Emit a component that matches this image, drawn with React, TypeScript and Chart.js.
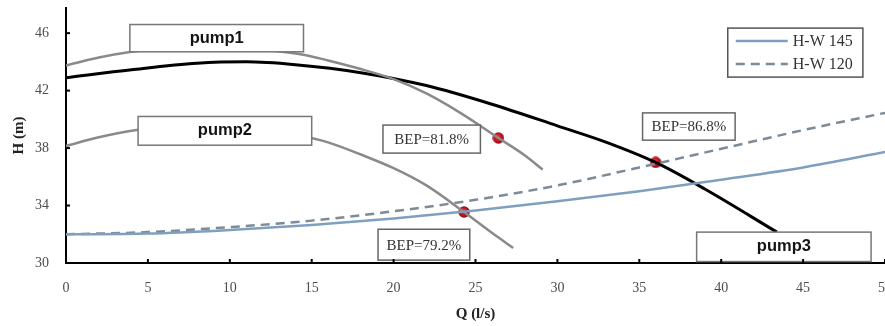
import React, { useEffect, useRef } from "react";
import { Chart, registerables } from "chart.js";

Chart.register(...registerables);

// Axis ticks
const qTicks = [0, 5, 10, 15, 20, 25, 30, 35, 40, 45, 50];
const hTicks = [30, 34, 38, 42, 46];

// Pump head curves (Q in l/s, H in m)
const pump1Q = [0, 2, 4, 6, 8, 10, 12, 14.5, 16, 18, 20, 22, 24, 26.4, 28, 29.1];
const pump1H = [43.75, 44.3, 44.7, 44.95, 45.05, 45.0, 44.85, 44.5, 44.1, 43.5, 42.8, 41.8, 40.5, 38.7, 37.5, 36.5];

const pump2Q = [0, 2, 4, 6, 8, 10, 12, 14, 16, 18, 20, 22, 24.3, 26, 27.3];
const pump2H = [38.15, 38.75, 39.2, 39.45, 39.55, 39.5, 39.3, 38.95, 38.4, 37.55, 36.6, 35.4, 33.55, 32.1, 31.05];

const pump3Q = [0, 4, 8, 11, 14, 18, 22, 26, 30, 33, 36, 39, 43.4];
const pump3H = [42.9, 43.45, 43.9, 44.0, 43.8, 43.25, 42.35, 41.05, 39.55, 38.4, 37.0, 35.15, 32.15];

// System curves
const systemQ = [0, 5, 10, 15, 20, 25, 30, 35, 40, 45, 50];
const hw145H = [32.0, 32.05, 32.3, 32.65, 33.1, 33.65, 34.3, 35.0, 35.8, 36.65, 37.72];
const hw120H = [32.0, 32.15, 32.5, 32.95, 33.6, 34.4, 35.4, 36.65, 37.95, 39.25, 40.45];

// Best efficiency points
const bepQ = [26.4, 24.3, 36.0];
const bepH = [38.7, 33.55, 37.0];
const bepLabels = ["BEP=81.8%", "BEP=79.2%", "BEP=86.8%"];

const pumpNames = ["pump1", "pump2", "pump3"];
const systemNames = ["H-W 145", "H-W 120"];

// Label box placement, in axis units
const pumpBoxes = [
  { q0: 3.9, q1: 14.5, h0: 46.6, h1: 44.7 },
  { q0: 4.4, q1: 15.0, h0: 40.2, h1: 38.2 },
  { q0: 38.5, q1: 49.15, h0: 32.15, h1: 30.1 },
];
const bepBoxes = [
  { q0: 19.35, q1: 25.3, h0: 39.6, h1: 37.65 },
  { q0: 19.05, q1: 24.65, h0: 32.35, h1: 30.2 },
  { q0: 35.2, q1: 40.85, h0: 40.45, h1: 38.55 },
];
const legendBox = { q0: 40.4, q1: 48.65, h0: 46.35, h1: 42.94 };

const SERIF = "'Liberation Serif', 'DejaVu Serif', serif";
const SANS = "'Liberation Sans', Arial, sans-serif";

const HW145_COLOR = "#7f9fbf";
const HW120_COLOR = "#7d8b99";
const HW120_DASH = [9, 6];

const pts = (qs: number[], hs: number[]) => qs.map((q, i) => ({ x: q, y: hs[i] }));

function makeMarker(): HTMLCanvasElement {
  const c = document.createElement("canvas");
  const s = 12;
  c.width = s;
  c.height = s;
  const g = c.getContext("2d")!;
  const grad = g.createRadialGradient(s * 0.4, s * 0.38, 0.5, s / 2, s / 2, s / 2);
  grad.addColorStop(0, "#f04040");
  grad.addColorStop(0.6, "#c8101c");
  grad.addColorStop(1, "#7a0a10");
  g.fillStyle = grad;
  g.beginPath();
  g.arc(s / 2, s / 2, s / 2 - 0.3, 0, Math.PI * 2);
  g.fill();
  return c;
}

const overlayPlugin = {
  id: "pumpOverlay",
  afterDatasetsDraw(chart: any) {
    const { ctx, scales } = chart;
    const xs = scales.x;
    const ys = scales.y;
    const rect = (b: any) => {
      const l = xs.getPixelForValue(b.q0);
      const r = xs.getPixelForValue(b.q1);
      const t = ys.getPixelForValue(b.h0);
      const bt = ys.getPixelForValue(b.h1);
      return { l, r, t, b: bt, w: r - l, h: bt - t };
    };
    ctx.save();

    // pump name boxes
    pumpBoxes.forEach((b, i) => {
      const p = rect(b);
      ctx.fillStyle = "#ffffff";
      ctx.fillRect(p.l, p.t, p.w, p.h);
      ctx.strokeStyle = "#777777";
      ctx.lineWidth = 1.5;
      ctx.strokeRect(p.l, p.t, p.w, p.h);
      ctx.fillStyle = "#141414";
      ctx.font = `bold 16.5px ${SANS}`;
      ctx.textAlign = "center";
      ctx.textBaseline = "middle";
      ctx.fillText(pumpNames[i], p.l + p.w / 2, p.t + p.h / 2);
    });

    // BEP boxes
    bepBoxes.forEach((b, i) => {
      const p = rect(b);
      ctx.fillStyle = "#ffffff";
      ctx.fillRect(p.l, p.t, p.w, p.h);
      ctx.strokeStyle = "#666666";
      ctx.lineWidth = 1.5;
      ctx.strokeRect(p.l, p.t, p.w, p.h);
      ctx.fillStyle = "#333333";
      ctx.font = `15px ${SERIF}`;
      ctx.textAlign = "center";
      ctx.textBaseline = "middle";
      ctx.fillText(bepLabels[i], p.l + p.w / 2, p.t + p.h / 2 + 1);
    });

    // legend
    const lg = rect(legendBox);
    ctx.fillStyle = "#ffffff";
    ctx.fillRect(lg.l, lg.t, lg.w, lg.h);
    ctx.strokeStyle = "#555555";
    ctx.lineWidth = 1.5;
    ctx.strokeRect(lg.l, lg.t, lg.w, lg.h);
    const rows = [
      { color: HW145_COLOR, dash: [] as number[] },
      { color: HW120_COLOR, dash: HW120_DASH },
    ];
    rows.forEach((row, i) => {
      const yy = lg.t + 13 + i * 23;
      ctx.strokeStyle = row.color;
      ctx.lineWidth = 2.5;
      ctx.setLineDash(row.dash);
      ctx.beginPath();
      ctx.moveTo(lg.l + 8, yy);
      ctx.lineTo(lg.l + 60, yy);
      ctx.stroke();
      ctx.setLineDash([]);
      ctx.fillStyle = "#333333";
      ctx.font = `16px ${SERIF}`;
      ctx.textAlign = "left";
      ctx.textBaseline = "middle";
      ctx.fillText(systemNames[i], lg.l + 65, yy + 1);
    });
    ctx.restore();
  },
  afterDraw(chart: any) {
    // inward tick marks
    const { ctx, scales, chartArea } = chart;
    ctx.save();
    ctx.strokeStyle = "#000000";
    ctx.lineWidth = 2;
    scales.x.ticks.forEach((t: any) => {
      if (t.value === 0) return;
      const px = scales.x.getPixelForValue(t.value);
      ctx.beginPath();
      ctx.moveTo(px, chartArea.bottom);
      ctx.lineTo(px, chartArea.bottom - 4);
      ctx.stroke();
    });
    scales.y.ticks.forEach((t: any) => {
      if (t.value === 30) return;
      const py = scales.y.getPixelForValue(t.value);
      ctx.beginPath();
      ctx.moveTo(chartArea.left, py);
      ctx.lineTo(chartArea.left + 4, py);
      ctx.stroke();
    });
    ctx.restore();
  },
};

export default function App() {
  const ref = useRef<HTMLCanvasElement>(null);

  useEffect(() => {
    const canvas = ref.current;
    if (!canvas) return;
    const marker = makeMarker();
    const curve = (label: string, data: any[], color: string, width: number, dash: number[] = []) => ({
      label,
      data,
      borderColor: color,
      backgroundColor: color,
      borderWidth: width,
      borderDash: dash,
      pointRadius: 0,
      fill: false,
      cubicInterpolationMode: "monotone" as const,
    });

    const chart = new Chart(canvas, {
      type: "line",
      data: {
        datasets: [
          curve(systemNames[0], pts(systemQ, hw145H), HW145_COLOR, 2.5),
          curve(systemNames[1], pts(systemQ, hw120H), HW120_COLOR, 2.5, HW120_DASH),
          curve(pumpNames[0], pts(pump1Q, pump1H), "#8a8a8a", 2.5),
          curve(pumpNames[1], pts(pump2Q, pump2H), "#8a8a8a", 2.5),
          curve(pumpNames[2], pts(pump3Q, pump3H), "#000000", 3),
          {
            label: "BEP",
            data: pts(bepQ, bepH),
            showLine: false,
            pointStyle: marker as any,
            pointRadius: 6,
            borderWidth: 0,
          } as any,
        ],
      },
      options: {
        animation: false,
        responsive: false,
        devicePixelRatio: 1,
        layout: { autoPadding: false, padding: { top: 8, right: 0, left: 0, bottom: 0 } },
        plugins: {
          legend: { display: false },
          tooltip: { enabled: false },
        },
        scales: {
          x: {
            type: "linear",
            min: 0,
            max: 50,
            grid: { display: false, drawTicks: false },
            border: { display: true, color: "#000000", width: 2 },
            ticks: {
              padding: 17,
              color: "#4d4d4d",
              font: { family: SERIF, size: 14 },
            },
            title: {
              display: true,
              text: "Q (l/s)",
              color: "#222222",
              font: { family: SERIF, size: 15, weight: "bold" },
              padding: { top: 0, bottom: 3 },
            },
            afterBuildTicks: (s: any) => {
              s.ticks = qTicks.map((v) => ({ value: v }));
            },
            afterFit: (s: any) => {
              s.height = 63;
              s.paddingLeft = 0;
              s.paddingRight = 0;
              s.paddingTop = 0;
              s.paddingBottom = 0;
            },
          },
          y: {
            type: "linear",
            min: 30,
            max: 47.75,
            grid: { display: false, drawTicks: false },
            border: { display: true, color: "#000000", width: 2 },
            ticks: {
              padding: 17,
              color: "#4d4d4d",
              font: { family: SERIF, size: 14 },
            },
            title: {
              display: true,
              text: "H (m)",
              color: "#222222",
              font: { family: SERIF, size: 15, weight: "bold" },
              padding: { top: 10, bottom: 0 },
            },
            afterBuildTicks: (s: any) => {
              s.ticks = hTicks.map((v) => ({ value: v }));
            },
            afterFit: (s: any) => {
              s.width = 66;
              s.paddingLeft = 0;
              s.paddingRight = 0;
              s.paddingTop = 0;
              s.paddingBottom = 0;
            },
          },
        },
      } as any,
      plugins: [overlayPlugin],
    });
    return () => chart.destroy();
  }, []);

  return (
    <div style={{ position: "fixed", left: 0, top: 0, width: 885, height: 326, background: "#ffffff" }}>
      <canvas ref={ref} width={885} height={326} style={{ display: "block", width: 885, height: 326 }} />
    </div>
  );
}
